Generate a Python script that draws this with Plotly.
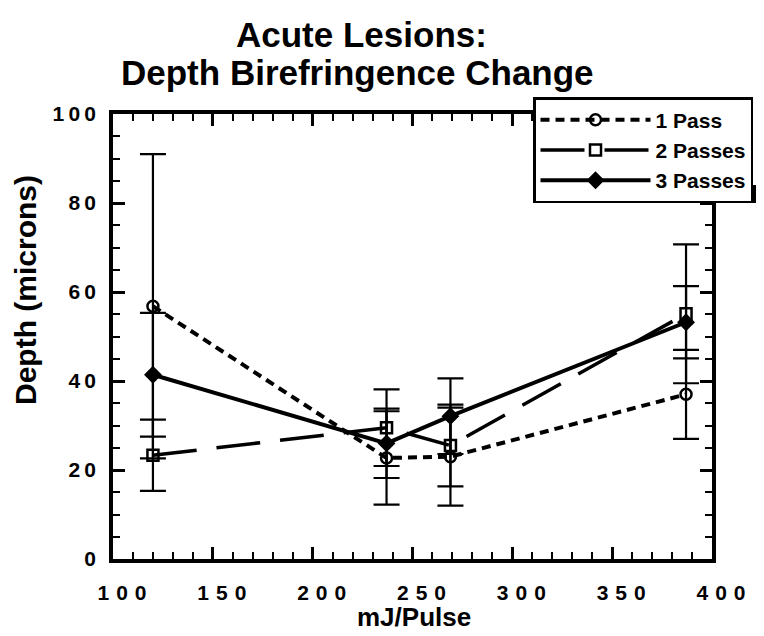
import plotly.graph_objects as go

# ---- data ----
energy = [120, 237, 269, 387]            # mJ/Pulse
pass1 = [56.8, 22.7, 23.0, 37.0]
pass1_err = [34.2, 10.5, 11.0, 10.0]
pass2 = [23.3, 29.5, 25.5, 55.1]
pass2_err = [8.0, 8.6, 9.2, 15.6]
pass3 = [41.4, 26.0, 32.1, 53.2]
pass3_err = [13.9, 7.8, 8.5, 8.1]

x_ticks = [100, 150, 200, 250, 300, 350, 400]
y_ticks = [0, 20, 40, 60, 80, 100]

FONT = "Liberation Sans, Arial, sans-serif"

OFF = 8                            # page body margin in the browser
L, R, T, B = 113, 712, 114, 559    # plot area, in screenshot pixels
PW, PH = R - L, B - T


def px(xp):
    return (xp - L) / PW


def py(yp):
    return (B - yp) / PH


def spaced(v, sp):
    return sp.join(str(v))


fig = go.Figure()

series = [
    ("1 Pass", pass1, pass1_err, "9px,6px", 4, "circle-open", 11),
    ("2 Passes", pass2, pass2_err, "44px,20px", 3.5, "square-open", 11),
    ("3 Passes", pass3, pass3_err, "solid", 4, "diamond", 11),
]
for name, vals, errs, dash, lw, sym, ms in series:
    fig.add_trace(go.Scatter(
        x=energy, y=vals, name=name, mode="lines+markers",
        line=dict(color="black", width=lw, dash=dash),
        marker=dict(symbol=sym, size=ms, color="black",
                    line=dict(color="black", width=2.5)),
        error_y=dict(type="data", array=errs, visible=True,
                     color="black", thickness=2.2, width=13),
    ))

axis_common = dict(
    showline=True, linecolor="black", linewidth=3.5, mirror="ticks",
    ticks="inside", tickcolor="black", tickwidth=2.5, ticklen=12,
    showgrid=False, zeroline=False,
    tickfont=dict(family=FONT, size=21, color="black", weight="bold"),
)

fig.update_xaxes(
    range=[100, 400], tickvals=x_ticks,
    ticktext=[spaced(v, "\u2004") for v in x_ticks],
    minor=dict(dtick=10, ticks="inside", ticklen=7, tickwidth=2, tickcolor="black"),
    ticklabelstandoff=12, ticklabelshift=9,
    **axis_common,
)
fig.update_yaxes(
    range=[0, 100], tickvals=y_ticks,
    ticktext=[spaced(v, "\u2009") for v in y_ticks],
    minor=dict(dtick=5, ticks="inside", ticklen=7, tickwidth=2, tickcolor="black"),
    ticklabelstandoff=9,
    **axis_common,
)

# legend drop shadow (thick lower edge)
fig.add_shape(type="rect", xref="paper", yref="paper",
              x0=px(534), x1=px(759), y0=py(203), y1=py(185),
              fillcolor="black", line=dict(width=0), layer="above")

annotations = [
    dict(text="Acute Lesions:", x=px(361), y=py(34), font=dict(size=35)),
    dict(text="Depth Birefringence Change", x=px(357), y=py(73),
         font=dict(size=35)),
    dict(text="mJ/Pulse", x=px(414), y=py(617), font=dict(size=26)),
    dict(text="Depth (microns)", x=px(25), y=py(290), font=dict(size=30),
         textangle=-90),
]
for a in annotations:
    a["font"].update(family=FONT, color="black", weight="bold")
    fig.add_annotation(xref="paper", yref="paper", showarrow=False,
                       xanchor="center", yanchor="middle", **a)

fig.update_layout(
    width=764, height=636,
    margin=dict(l=L - OFF, r=764 - R + OFF, t=T - OFF, b=636 - B + OFF,
                autoexpand=False),
    paper_bgcolor="white", plot_bgcolor="white",
    showlegend=True,
    legend=dict(
        x=px(533), y=py(97), xanchor="left", yanchor="top",
        bgcolor="white", bordercolor="black", borderwidth=2.5,
        font=dict(family=FONT, size=21, color="black", weight="bold"),
        itemwidth=110, tracegroupgap=0,
    ),
)

fig.write_html("out.html")
